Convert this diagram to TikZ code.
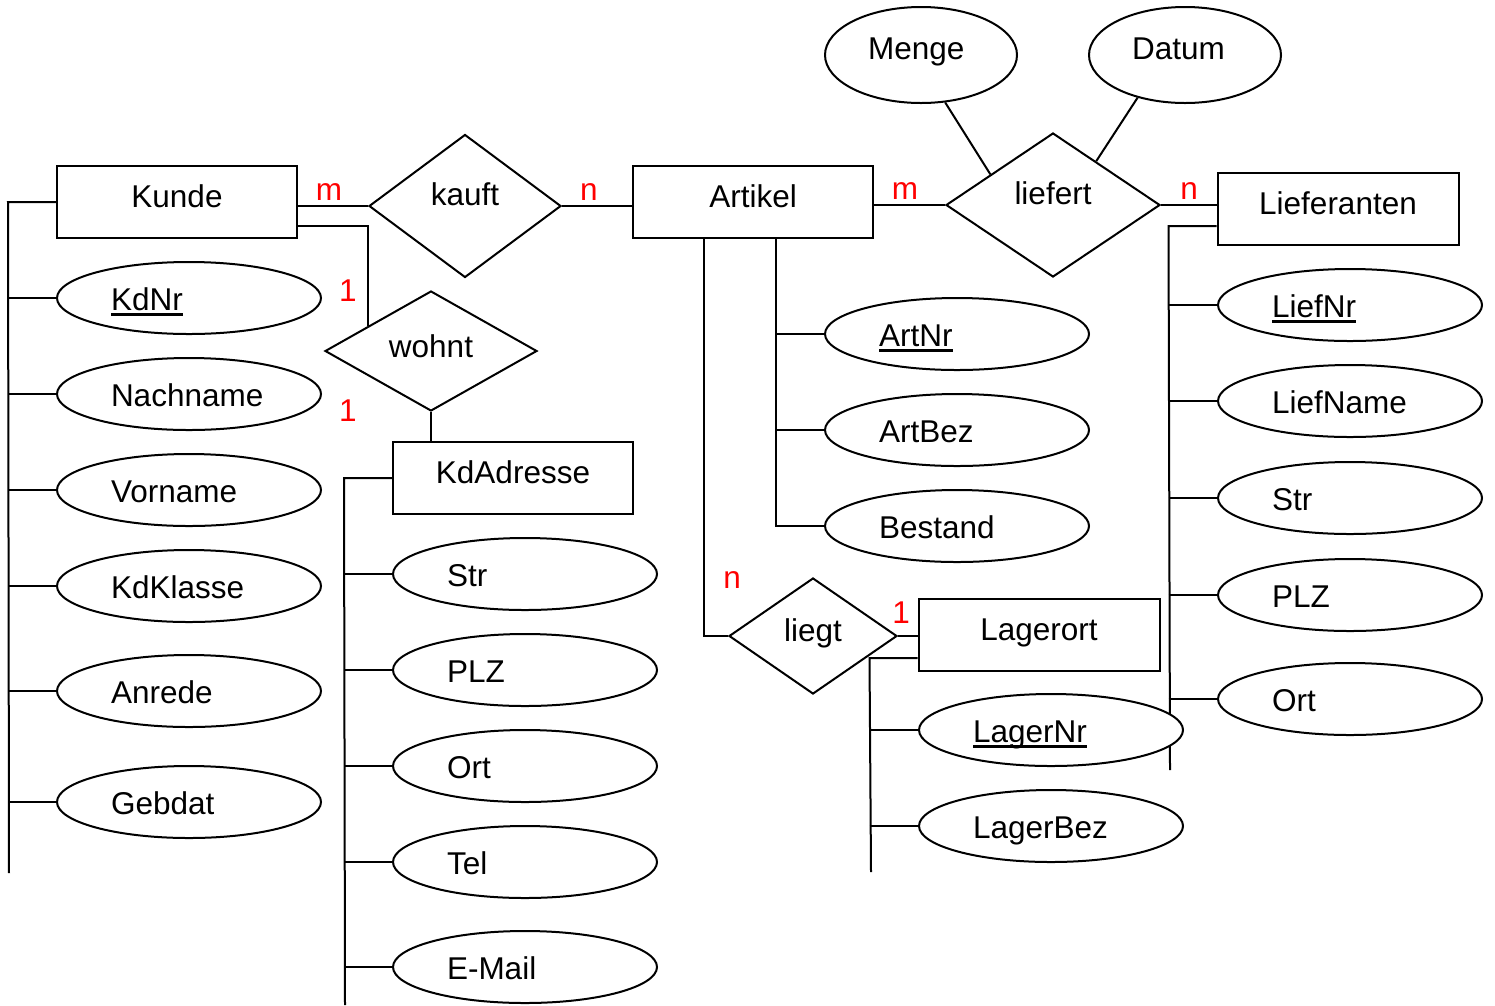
\documentclass[tikz,border=0pt]{standalone}
\usepackage{fontspec}
\setmainfont{Liberation Sans}
\usetikzlibrary{shapes.geometric,calc,backgrounds}

% underlined key attribute
\newcommand\keyattr[1]{\setbox0\hbox{#1}\rlap{\rule[-5.5pt]{\wd0}{2.6pt}}\box0}

\begin{document}
\begin{tikzpicture}[x=1pt,y=-1pt,
  every node/.style={font=\fontsize{31.5}{38}\selectfont, inner sep=0pt},
  conn/.style={line width=2pt},
  entity/.style={draw, line width=2pt, fill=white, rectangle,
    minimum width=240pt, minimum height=72pt, text height=19pt, text depth=9pt},
  attr/.style={draw, line width=2pt, fill=white, ellipse,
    minimum width=264pt, minimum height=72pt, text width=156pt, align=left,
    text height=27pt, text depth=2pt},
  rel/.style={draw, line width=2pt, fill=white, diamond,
    text height=11pt, text depth=13pt},
  card/.style={text=red, anchor=base}]

\useasboundingbox (0,0) rectangle (1495,1005);

% entities and relationships
\node[entity] (Kunde) at (177,202) {Kunde};
\node[rel, minimum width=192pt, minimum height=143pt] (kauft) at (465,206) {kauft};
\node[entity] (Artikel) at (753,202) {Artikel};
\node[rel, minimum width=214pt, minimum height=144pt] (liefert) at (1053,205) {liefert};
\node[entity, minimum width=241pt] (Lieferanten) at (1338,209) {Lieferanten};
\node[rel, minimum width=212pt, minimum height=120pt, text height=17pt, text depth=5pt] (wohnt) at (431,351) {wohnt};
\node[entity] (KdAdresse) at (513,478) {KdAdresse};
\node[rel, minimum width=168pt, minimum height=116pt, text height=16pt, text depth=6pt] (liegt) at (813,636) {liegt};
\node[entity, minimum width=241pt] (Lagerort) at (1039,635) {Lagerort};

% relationship attributes
\node[attr, minimum width=192pt, minimum height=96pt, text width=106pt, text height=20pt, text depth=12pt] (Menge) at (921,55) {Menge};
\node[attr, minimum width=192pt, minimum height=96pt, text width=106pt, text height=20pt, text depth=12pt] (Datum) at (1185,55) {Datum};

% Kunde attributes
\node[attr] (KdNr) at (189,298) {\keyattr{KdNr}};
\node[attr] (Nachname) at (189,394) {Nachname};
\node[attr] (Vorname) at (189,490) {Vorname};
\node[attr] (KdKlasse) at (189,586) {KdKlasse};
\node[attr] (Anrede) at (189,691) {Anrede};
\node[attr] (Gebdat) at (189,802) {Gebdat};

% KdAdresse attributes
\node[attr] (aStr) at (525,574) {Str};
\node[attr] (aPLZ) at (525,670) {PLZ};
\node[attr] (aOrt) at (525,766) {Ort};
\node[attr] (aTel) at (525,862) {Tel};
\node[attr] (aMail) at (525,967) {E-Mail};

% Artikel attributes
\node[attr] (ArtNr) at (957,334) {\keyattr{ArtNr}};
\node[attr] (ArtBez) at (957,430) {ArtBez};
\node[attr] (Bestand) at (957,526) {Bestand};

% Lagerort attributes
\node[attr] (LagerNr) at (1051,730) {\keyattr{LagerNr}};
\node[attr] (LagerBez) at (1051,826) {LagerBez};

% Lieferanten attributes
\node[attr] (LiefNr) at (1350,305) {\keyattr{LiefNr}};
\node[attr] (LiefName) at (1350,401) {LiefName};
\node[attr] (lStr) at (1350,498) {Str};
\node[attr] (lPLZ) at (1350,595) {PLZ};
\node[attr] (lOrt) at (1350,699) {Ort};

% cardinalities
\node[card] (c1) at (329,200) {m};
\node[card] (c2) at (589,200) {n};
\node[card] (c3) at (905,199) {m};
\node[card] (c4) at (1189,199) {n};
\node[card] (c5) at (348,301) {1};
\node[card] (c6) at (348,421) {1};
\node[card] (c7) at (732,588) {n};
\node[card] (c8) at (901,623) {1};

% bus points
\coordinate (kbus) at ([xshift=-48pt]Kunde.west);
\coordinate (kbusend) at (9,873);
\coordinate (kabus) at ([xshift=-48pt]KdAdresse.west);
\coordinate (kabusend) at (345,1005);
\coordinate (abus) at ([xshift=144pt]Artikel.south west);
\coordinate (aliegt) at ([xshift=72pt]Artikel.south west);
\coordinate (lbus0) at ([yshift=20pt]Lieferanten.south west);
\coordinate (lbus) at ([xshift=-48pt]lbus0);
\coordinate (lbusend) at (1170,770);
\coordinate (obus0) at ([yshift=14pt]Lagerort.south west);
\coordinate (obus) at ([xshift=-48pt]obus0);
\coordinate (obusend) at (871,872);
\coordinate (kw) at ([yshift=13pt]Kunde.south east);

\begin{scope}[on background layer]
  % relationships
  \draw[conn] (kauft.west -| Kunde.east) -- (kauft.west);
  \draw[conn] (kauft.east) -- (kauft.east -| Artikel.west);
  \draw[conn] (liefert.west -| Artikel.east) -- (liefert.west);
  \draw[conn] (liefert.east) -- (liefert.east -| Lieferanten.west);
  \draw[conn] (kw) -| ($(wohnt.west)!0.415!(wohnt.north)$);
  \draw[conn] (wohnt.south) -- (wohnt.south |- KdAdresse.north);
  \draw[conn] (aliegt) |- (liegt.west);
  \draw[conn] (liegt.east) -- (liegt.east -| Lagerort.west);
  \draw[conn] (Menge.-63) -- ($(liefert.west)!0.42!(liefert.north)$);
  \draw[conn] (Datum.-138) -- ($(liefert.north)!0.40!(liefert.east)$);

  % attribute buses
  \draw[conn] (Kunde.west) -- (kbus) -- (kbusend);
  \foreach \a in {KdNr,Nachname,Vorname,KdKlasse,Anrede,Gebdat}
    \draw[conn] (\a.west -| kbus) -- (\a.west);

  \draw[conn] (KdAdresse.west) -- (kabus) -- (kabusend);
  \foreach \a in {aStr,aPLZ,aOrt,aTel,aMail}
    \draw[conn] (\a.west -| kabus) -- (\a.west);

  \draw[conn] (abus) |- (Bestand.west);
  \foreach \a in {ArtNr,ArtBez}
    \draw[conn] (\a.west -| abus) -- (\a.west);

  \draw[conn] (lbus0) -- (lbus) -- (lbusend);
  \foreach \a in {LiefNr,LiefName,lStr,lPLZ,lOrt}
    \draw[conn] (\a.west -| lbus) -- (\a.west);

  \draw[conn] (obus0) -- (obus) -- (obusend);
  \foreach \a in {LagerNr,LagerBez}
    \draw[conn] (\a.west -| obus) -- (\a.west);
\end{scope}
\end{tikzpicture}
\end{document}
